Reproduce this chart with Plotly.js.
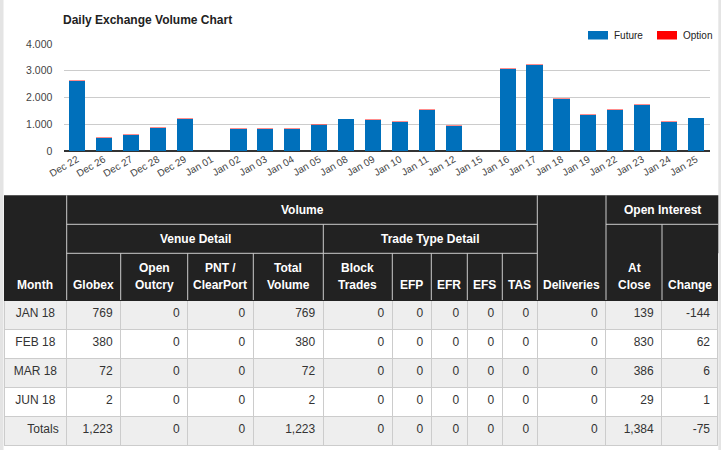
<!DOCTYPE html>
<html>
<head>
<meta charset="utf-8">
<script src="https://cdn.plot.ly/plotly-3.0.1.min.js"></script>
<style>
html,body{margin:0;padding:0;background:#fff;}
#chart{width:721px;height:450px;}
</style>
</head>
<body>
<div id="chart"></div>
<script>
// ---------- chart data ----------
const dates = ['Dec 22','Dec 26','Dec 27','Dec 28','Dec 29','Jan 01','Jan 02','Jan 03','Jan 04','Jan 05','Jan 08','Jan 09','Jan 10','Jan 11','Jan 12','Jan 15','Jan 16','Jan 17','Jan 18','Jan 19','Jan 22','Jan 23','Jan 24','Jan 25'];
const futureVol = [2620,500,600,870,1200,0,840,840,840,960,1180,1170,1100,1550,950,0,3070,3230,1950,1360,1550,1725,1100,1223];
const optionVol = [25,20,30,15,20,0,15,15,15,40,15,20,20,20,40,0,20,20,20,20,20,20,20,10];
const seriesNames = ['Future','Option'];
const seriesColors = ['#0070bb','#ff0000'];

// ---------- table data ----------
const months       = ['JAN 18','FEB 18','MAR 18','JUN 18','Totals'];
const globex       = [769,380,72,2,1223];
const openOutcry   = [0,0,0,0,0];
const pntClearport = [0,0,0,0,0];
const totalVolume  = [769,380,72,2,1223];
const blockTrades  = [0,0,0,0,0];
const efp          = [0,0,0,0,0];
const efr          = [0,0,0,0,0];
const efs          = [0,0,0,0,0];
const tas          = [0,0,0,0,0];
const deliveries   = [0,0,0,0,0];
const atClose      = [139,830,386,29,1384];
const oiChange     = [-144,62,6,1,-75];
const colLabels = ['Month','Globex','Open<br>Outcry','PNT /<br>ClearPort','Total<br>Volume','Block<br>Trades','EFP','EFR','EFS','TAS','Deliveries','At<br>Close','Change'];
const topGroups = [{label:'Volume', from:1, to:9}, {label:'Open Interest', from:11, to:12}];
const subGroups = [{label:'Venue Detail', from:1, to:4}, {label:'Trade Type Detail', from:5, to:9}];

// ---------- layout constants ----------
const W = 721, H = 450;
const FONT = 'Liberation Sans, Arial, Helvetica, sans-serif';
const fx = p => p / W;
const fy = p => 1 - p / H;
const colEdges = [4, 66.7, 120.7, 187.7, 253.3, 323.3, 392.3, 431.3, 467.3, 502.3, 537.3, 606, 662, 718.3];
const rowTop = 195.3, row2Top = 224.3, row3Top = 253.3, headBottom = 300;
const HEAD_BG = '#222222', GRID = '#cccccc';

const fmt = v => (typeof v === 'number') ? v.toLocaleString('en-US') : String(v).replace(/ /g, '\u00a0');
const columns = [months, globex, openOutcry, pntClearport, totalVolume, blockTrades, efp, efr, efs, tas, deliveries, atClose, oiChange]
  .map(col => col.map(fmt));
const widths = colEdges.slice(1).map((e, i) => e - colEdges[i]);
const rowFills = months.map((m, i) => i % 2 === 0 ? '#eeeeee' : '#ffffff');
const bold = s => '<b>' + s + '</b>';

const barTraces = seriesNames.map((n, k) => ({
  type: 'bar', name: n, x: dates, y: k === 0 ? futureVol : optionVol,
  marker: {color: seriesColors[k], opacity: k === 0 ? 1 : 0.45}, showlegend: false, hoverinfo: 'x+y+name'
}));

const table = {
  type: 'table',
  domain: {x: [fx(colEdges[0]), fx(colEdges[13])], y: [0, fy(row3Top)]},
  columnwidth: widths,
  header: {
    values: colLabels.map(() => ''),
    height: headBottom - row3Top,
    fill: {color: HEAD_BG},
    line: {color: HEAD_BG, width: 1},
    font: {family: FONT, size: 12, color: '#ffffff'}
  },
  cells: {
    values: columns,
    height: 29,
    fill: {color: [rowFills]},
    line: {color: GRID, width: 1},
    align: [['center','center','center','center','right'], 'right'],
    font: {family: FONT, size: 12, color: '#333333'}
  }
};

// header background, separators (drawn above the table) and legend
const shapes = [
  {type:'rect', xref:'paper', yref:'paper', x0:0, x1:fx(3.5), y0:0, y1:1, fillcolor:'#e4e4e4', line:{width:0}, layer:'below'},
  {type:'rect', xref:'paper', yref:'paper', x0:fx(718.3), x1:1, y0:0, y1:1, fillcolor:'#e4e4e4', line:{width:0}, layer:'below'},
  {type:'rect', xref:'paper', yref:'paper', x0:fx(colEdges[0]), x1:fx(colEdges[13]), y0:fy(row3Top), y1:fy(rowTop), fillcolor:HEAD_BG, line:{width:0}, layer:'below'}
];
const vline = (x, y0, y1) => ({type:'line', xref:'paper', yref:'paper', x0:fx(x), x1:fx(x), y0:fy(y0), y1:fy(y1), line:{color:GRID, width:1}});
const hline = (y, x0, x1) => ({type:'line', xref:'paper', yref:'paper', x0:fx(x0), x1:fx(x1), y0:fy(y), y1:fy(y), line:{color:GRID, width:1}});
// where each column boundary's separator starts (top)
const sepTop = colEdges.map(() => row3Top);
sepTop[1] = rowTop; sepTop[10] = rowTop; sepTop[11] = rowTop;
subGroups.forEach(g => { sepTop[g.to + 1] = Math.min(sepTop[g.to + 1], row2Top); });
sepTop[12] = row2Top;
for (let i = 1; i <= 12; i++) shapes.push(vline(colEdges[i], sepTop[i], headBottom));
topGroups.forEach(g => shapes.push(hline(row2Top, colEdges[g.from], colEdges[g.to + 1])));
subGroups.forEach(g => shapes.push(hline(row3Top, colEdges[g.from], colEdges[g.to + 1])));

const annotations = [];
const headAnn = (x, y, text) => ({xref:'paper', yref:'paper', x: fx(x), y: fy(y), text: bold(text), showarrow:false,
  xanchor:'center', yanchor:'middle', font:{family:FONT, size:12, color:'#ffffff'}});
topGroups.forEach(g => annotations.push(headAnn((colEdges[g.from] + colEdges[g.to + 1]) / 2, (rowTop + row2Top) / 2, g.label)));
subGroups.forEach(g => annotations.push(headAnn((colEdges[g.from] + colEdges[g.to + 1]) / 2, (row2Top + row3Top) / 2, g.label)));
const lineCenters = [285.2, 267.5]; // from the bottom line upwards
colLabels.forEach((lab, i) => {
  const lines = lab.split('<br>').reverse();
  lines.forEach((ln, k) => annotations.push(headAnn((colEdges[i] + colEdges[i + 1]) / 2, lineCenters[k], ln)));
});
// legend
const legendX = [588, 657];
seriesNames.forEach((n, k) => {
  shapes.push({type:'rect', xref:'paper', yref:'paper', x0:fx(legendX[k]), x1:fx(legendX[k] + 20), y0:fy(39.5), y1:fy(31), fillcolor:seriesColors[k], line:{width:0}});
  annotations.push({xref:'paper', yref:'paper', x:fx(legendX[k] + 24), y:fy(35.5), text:n, showarrow:false, xanchor:'left', yanchor:'middle',
    font:{family:FONT, size:10, color:'#222222'}});
});

const layout = {
  width: W, height: H,
  margin: {l:0, r:0, t:0, b:0},
  paper_bgcolor: '#ffffff', plot_bgcolor: '#ffffff',
  separators: ',.',
  barmode: 'stack', bargap: 0.4,
  showlegend: false,
  title: {text: bold('Daily Exchange Volume Chart'), xref:'container', yref:'container', x: fx(63), xanchor:'left', y: fy(19.5), yanchor:'middle',
    font: {family: FONT, size: 12, color: '#222222'}},
  xaxis: {domain: [fx(63.5), fx(709.5)], anchor:'y', type:'category', tickangle:-30, showgrid:false, ticks:'', automargin:false,
    tickfont:{family:FONT, size:10, color:'#444444'}, fixedrange:true},
  yaxis: {domain: [fy(151), fy(44)], anchor:'x', range:[0,4000], dtick:1000, tickformat:',', gridcolor:GRID, gridwidth:1,
    zeroline:true, zerolinecolor:'#333333', zerolinewidth:1.5, ticks:'outside', ticklen:8, tickcolor:'rgba(0,0,0,0)', automargin:false,
    tickfont:{family:FONT, size:10.5, color:'#444444'}, fixedrange:true},
  shapes: shapes,
  annotations: annotations
};

Plotly.newPlot('chart', barTraces.concat([table]), layout, {displayModeBar:false, staticPlot:true});
</script>
</body>
</html>
